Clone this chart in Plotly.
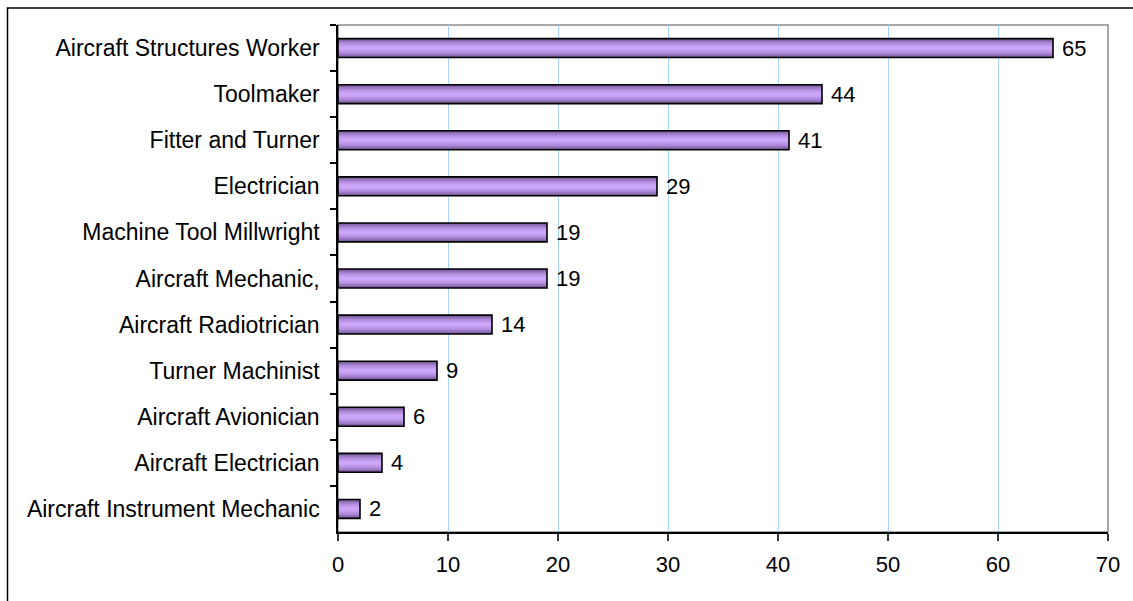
import plotly.graph_objects as go

categories = [
    "Aircraft Structures Worker",
    "Toolmaker",
    "Fitter and Turner",
    "Electrician",
    "Machine Tool Millwright",
    "Aircraft Mechanic,",
    "Aircraft Radiotrician",
    "Turner Machinist",
    "Aircraft Avionician",
    "Aircraft Electrician",
    "Aircraft Instrument Mechanic",
]
values = [65, 44, 41, 29, 19, 19, 14, 9, 6, 4, 2]
x_ticks = [0, 10, 20, 30, 40, 50, 60, 70]

FONT = "Liberation Sans, Arial, sans-serif"
fig = go.Figure()

# gradient layers (dark edges -> light centre)
layers = [
    (0.41, "#6f5290"),
    (0.36, "#8566aa"),
    (0.31, "#9a78c2"),
    (0.25, "#ac88d6"),
    (0.19, "#ba94e6"),
    (0.12, "#c69ff3"),
    (0.06, "#cca6f8"),
]
for w, c in layers:
    fig.add_trace(go.Bar(
        y=categories, x=values, orientation="h", width=w,
        marker=dict(color=c, line=dict(width=0)),
        hoverinfo="skip", showlegend=False,
    ))
# outline + labels
fig.add_trace(go.Bar(
    y=categories, x=values, orientation="h", width=0.41,
    marker=dict(color="rgba(0,0,0,0)", line=dict(color="black", width=1.6)),
    text=values, texttemplate=" %{x}", textposition="outside",
    constraintext="none",
    textfont=dict(family=FONT, size=22, color="black"),
    cliponaxis=False, showlegend=False,
))

fig.update_layout(
    width=1133, height=601,
    margin=dict(l=338, r=25, t=25, b=69),
    barmode="overlay",
    paper_bgcolor="white", plot_bgcolor="white",
    font=dict(family=FONT, size=22, color="black"),
    showlegend=False,
    shapes=[
        dict(type="rect", xref="paper", yref="paper", x0=0, x1=1, y0=0, y1=1,
             line=dict(color="#8c8c8c", width=1.5), layer="below"),
        dict(type="rect", xref="paper", yref="paper",
             x0=(7.5 - 338) / 770, x1=1.2, y0=-0.3, y1=(532 - 8) / 507,
             line=dict(color="black", width=1.5), layer="below"),
    ],
)
fig.update_xaxes(
    range=[0, 70], tickvals=x_ticks, ticktext=[str(v) for v in x_ticks],
    showgrid=True, gridcolor="#a9d3ff", gridwidth=1,
    showline=True, linecolor="black", linewidth=1.5,
    ticks="outside", ticklen=7, tickcolor="#333", tickwidth=1.5,
    ticklabelstandoff=5, zeroline=False,
    tickfont=dict(size=22),
)
fig.update_yaxes(
    autorange="reversed", type="category", tickson="boundaries",
    showgrid=False, showline=True, linecolor="black", linewidth=1.5,
    ticks="outside", ticklen=6, tickcolor="black", tickwidth=1.5,
    ticklabelstandoff=12, tickfont=dict(size=23),
)

fig.write_html("out.html")
